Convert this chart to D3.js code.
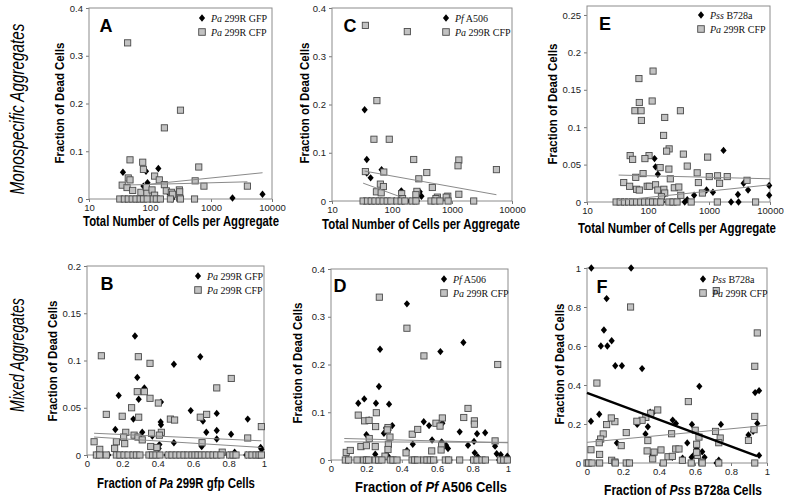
<!DOCTYPE html>
<html><head><meta charset="utf-8">
<script src="https://cdn.jsdelivr.net/npm/d3@7"></script>
<style>body{margin:0;background:#fff}svg{display:block}</style>
</head><body>
<svg id="c" width="788" height="499"></svg>
<script>
// ---------- DATA ----------
const logTicks = [10, 100, 1000, 10000];
const fracTicks = [0, 0.2, 0.4, 0.6, 0.8, 1];
const yTicks04 = [0, 0.1, 0.2, 0.3, 0.4];
const yTicks025 = [0, 0.05, 0.1, 0.15, 0.2, 0.25];
const yTicks02 = [0, 0.05, 0.1, 0.15, 0.2];
const yTicks1 = [0, 0.2, 0.4, 0.6, 0.8, 1];

// Panel A: Pa 299R GFP (diamonds) vs Pa 299R CFP (squares)
const aDia = [[36,.056],[86,.058],[137,.064],[78,.027],[91,.034],[210,.010],[2250,.002],[6990,.010],
  [40,0],[60,0],[100,0],[140,0],[230,0]];
const aSq = [[43,.327],[316,.186],[172,.149],[47,.082],[76,.077],[78,.062],[630,.067],[119,.048],[142,.040],
  [172,.030],[550,.038],[766,.027],[3950,.027],[35,.029],[42,.024],[44,.044],[47,.040],[52,.018],[71,.014],
  [87,.024],[89,.012],[108,.019],[119,.008],[185,.017],[224,.014],[235,.010],[303,.019],[307,.015],[307,.002],
  [32,0],[38,0],[44,0],[51,0],[59,0],[69,0],[78,0],[90,0],[113,0],[127,0],[148,0],[216,0],[316,0],[537,0]];
const aTrend1 = [[99,.031],[7000,.055]];
const aTrend2 = [[36,.029],[3950,.036]];

// Panel C: Pf A506 vs Pa 299R CFP
const cDia = [[35,.189],[38,.086],[67,.065],[44,.048],[38,.058],[143,.021],[290,.019],[310,.010],[143,.008],
  [34,0],[42,0],[50,0],[60,0],[80,0],[110,0],[150,0],[200,0],[260,0]];
const cSq = [[36,.364],[180,.351],[56,.208],[50,.128],[90,.128],[230,.086],[1300,.085],[1260,.073],[5500,.065],
  [36,.061],[73,.060],[380,.059],[280,.046],[64,.035],[72,.030],[470,.028],[55,.019],[66,.017],[145,.015],
  [260,.020],[250,.013],[570,.008],[540,.005],[850,.010],[800,.008],[1300,.014],[150,.005],
  [33,0],[39,0],[45,0],[52,0],[61,0],[71,0],[83,0],[96,0],[121,0],[142,0],[164,0],[216,0],[251,0],
  [447,0],[520,0],[630,0],[860,0],[2300,0]];
const cTrend1 = [[35,.062],[5500,.013]];
const cTrend2 = [[33,.037],[150,.007]];

// Panel E: Pss B728a vs Pa 299R CFP
const eDia = [[128,.058],[133,.047],[145,.037],[1730,.069],[177,.016],[165,.012],[182,.009],[570,.009],[910,.016],
  [1160,.013],[2980,.010],[3700,.025],[4370,.016],[9700,.022],[9700,.009],[2300,0],[3050,0],[440,.003],
  [40,0],[55,0],[80,0],[120,0],[170,0],[250,0],[400,0]];
const eSq = [[121,.175],[71,.165],[72,.133],[117,.135],[61,.122],[77,.122],[340,.122],[78,.109],[188,.113],
  [180,.089],[222,.071],[202,.068],[51,.062],[56,.057],[104,.062],[89,.058],[380,.064],[950,.060],[440,.048],
  [220,.044],[158,.046],[83,.038],[640,.039],[63,.033],[232,.031],[1010,.034],[1380,.035],[1990,.034],
  [670,.026],[1490,.025],[4200,.029],[40,.026],[50,.021],[97,.021],[105,.021],[133,.023],[270,.019],
  [320,.020],[65,.017],[72,.016],[145,.016],[182,.017],[188,.012],[345,.009],[780,.012],[166,.007],
  [30,0],[35,0],[41,0],[48,0],[56,0],[65,0],[76,0],[88,0],[103,0],[119,0],[139,0],[162,0],[220,0],
  [257,0],[299,0],[510,0],[1370,0],[5800,0]];
const eTrend1 = [[33,.036],[10000,.031]];
const eTrend2 = [[33,.002],[10000,.023]];

// Panel B: mixed Pa 299R GFP / CFP
const bDia = [[.271,.126],[.640,.104],[.491,.096],[.284,.082],[.179,.063],[.324,.071],[.292,.059],[.418,.056],
  [.262,.038],[.586,.047],[.655,.036],[.733,.044],[.908,.038],[.416,.035],[.418,.032],[.160,.027],[.312,.024],
  [.674,.024],[.733,.026],[.814,.022],[.733,.017],[.409,.011],[.491,.013],[.298,.018],[.369,.020],[.648,.009],
  [.981,.008],[.986,.006],[.834,.003],[.405,.007],
  [.05,0],[.12,0],[.20,0],[.25,0],[.35,0],[.45,0],[.55,0],[.62,0],[.70,0],[.80,0],[.90,0],[.97,0]];
const bSq = [[.081,.105],[.290,.104],[.356,.097],[.815,.081],[.733,.071],[.284,.067],[.324,.067],[.356,.060],
  [.403,.055],[.252,.050],[.109,.043],[.199,.041],[.292,.040],[.676,.043],[.640,.040],[.471,.038],[.495,.037],
  [.985,.030],[.219,.024],[.266,.021],[.288,.019],[.312,.016],[.365,.023],[.420,.024],[.409,.021],[.207,.019],
  [.040,.014],[.166,.014],[.213,.012],[.650,.013],[.908,.018],[.360,.009],[.395,.008],[.072,.006],[.156,.007],
  [.764,.003],
  [.053,0],[.072,0],[.109,0],[.166,0],[.186,0],[.209,0],[.232,0],[.260,0],[.279,0],[.299,0],[.350,0],[.371,0],
  [.390,0],[.412,0],[.458,0],[.480,0],[.503,0],[.525,0],[.548,0],[.571,0],[.593,0],[.610,0],[.627,0],[.646,0],
  [.667,0],[.689,0],[.712,0],[.733,0],[.757,0],[.806,0],[.825,0],[.842,0],[.910,0],[.932,0],[.955,0],[.972,0],[.985,0]];
const bTrend1 = [[.04,.023],[.985,.015]];
const bTrend2 = [[.04,.019],[.985,.008]];

// Panel D: mixed Pf A506 / Pa 299R CFP
const dDia = [[.429,.327],[.748,.246],[.618,.227],[.277,.232],[.271,.154],[.154,.119],[.188,.128],[.254,.119],
  [.328,.117],[.215,.084],[.200,.053],[.299,.056],[.346,.072],[.311,.067],[.524,.080],[.554,.072],[.629,.077],
  [.727,.059],[.571,.042],[.625,.038],[.650,.031],[.661,.024],[.462,.033],[.429,.020],[.250,.012],[.312,.011],
  [.322,.008],[.825,.055],[.871,.057],[.808,.039],[.774,.031],[.927,.029],[.812,.015],[.829,.007],[.936,.013],
  [.959,.011],[.996,.008],
  [.10,0],[.19,0],[.26,0],[.35,0],[.47,0],[.56,0],[.67,0],[.80,0],[.95,0]];
const dSq = [[.273,.341],[.429,.276],[.525,.218],[.942,.200],[.154,.094],[.256,.099],[.190,.082],[.215,.083],
  [.774,.108],[.750,.089],[.810,.082],[.810,.075],[.629,.088],[.593,.077],[.616,.071],[.252,.070],[.322,.068],
  [.318,.063],[.333,.048],[.459,.054],[.490,.064],[.216,.045],[.169,.028],[.200,.030],[.086,.016],[.109,.020],
  [.250,.028],[.324,.033],[.322,.022],[.305,.008],[.424,.015],[.569,.019],[.625,.030],[.622,.021],[.927,.040],
  [.081,0],[.100,0],[.147,0],[.185,0],[.200,0],[.213,0],[.250,0],[.269,0],[.288,0],[.335,0],[.350,0],[.373,0],
  [.458,0],[.473,0],[.490,0],[.524,0],[.542,0],[.561,0],[.580,0],[.646,0],[.665,0],[.727,0],[.806,0],[.825,0],
  [.853,0],[.872,0],[.957,0],[.976,0],[.996,0]];
const dTrend1 = [[.075,.045],[1,.036]];
const dTrend2 = [[.075,.038],[1,.037]];

// Panel F: mixed Pss B728a / Pa 299R CFP
const fDia = [[.024,1.0],[.245,1.0],[.109,.843],[.094,.682],[.077,.600],[.113,.600],[.137,.627],[.157,.499],
  [.194,.499],[.306,.484],[.624,.393],[.022,.214],[.068,.250],[.166,.103],[.279,.198],[.325,.149],[.338,.186],
  [.351,.260],[.365,.256],[.476,.220],[.494,.203],[.583,.198],[.744,.198],[.946,.203],[.934,.361],[.956,.371],
  [.923,.162],[.897,.144],[.956,.039],[.557,.103],[.596,.044],[.609,.072],[.640,.058],[.653,.029],[.581,.029],
  [.474,.029],[.531,.024],[.365,.043],[.360,.032],[.720,0],[.732,.014]];
const fSq = [[.718,.884],[.242,.800],[.055,.410],[.946,.667],[.932,.496],[.563,.315],[.393,.272],[.354,.255],
  [.327,.234],[.306,.219],[.277,.214],[.155,.212],[.135,.231],[.109,.197],[.218,.156],[.090,.149],[.076,.123],
  [.068,.104],[.190,.089],[.338,.115],[.470,.150],[.601,.168],[.622,.133],[.609,.096],[.714,.162],[.740,.128],
  [.932,.239],[.928,.171],[.897,.116],[.732,.104],[.022,.068],[.070,.044],[.137,.014],[.155,.005],[.334,.062],
  [.373,.056],[.365,.021],[.411,.067],[.450,.032],[.474,.034],[.493,.072],[.511,.072],[.530,.014],[.613,.039],
  [.609,.055],[.637,.005],
  [0,0],[.009,0],[.028,0],[.070,0],[.157,0],[.218,0],[.236,0],[.424,0],[.579,0],[.640,0],[.732,0],[.932,0]];
const fTrendDia = [[0,.36],[.945,.035]];
const fTrendSq = [[0,.106],[1,.193]];

// ---------- DRAWING ----------
const svg = d3.select('#c');
const SANS = "'Liberation Sans', Arial, Helvetica, sans-serif";
const SERIF = "'Liberation Serif', 'Times New Roman', serif";
const diamondPath = "M0,-3.7L3.1,0L0,3.7L-3.1,0Z";

function richText(sel, parts) {
  parts.forEach(p => {
    const ts = sel.append('tspan').text(p.t);
    if (p.i) ts.attr('font-style', 'italic');
  });
}

// text centred at (cx, cy), optionally rotated, squeezed horizontally to a target width
function fittedText(parent, cx, cy, rot, width, attrs, parts) {
  const t = parent.append('text').attr('text-anchor', 'middle').attr('dominant-baseline', 'central');
  Object.entries(attrs).forEach(([k, v]) => t.attr(k, v));
  richText(t, parts);
  const nat = t.node().getComputedTextLength();
  const s = nat > 0 ? Math.min(1, width / nat) : 1;
  t.attr('transform', `translate(${cx},${cy}) rotate(${rot}) scale(${s},1)`);
  return t;
}

function drawPanel(p) {
  const g = svg.append('g');
  const x = (p.log ? d3.scaleLog() : d3.scaleLinear()).domain(p.xDomain).range([p.l, p.r]);
  const y = d3.scaleLinear().domain(p.yDomain).range([p.b, p.t]);

  const xa = d3.axisBottom(x).tickValues(p.xTicks).tickFormat(d => String(d)).tickSize(3).tickPadding(2);
  const gx = g.append('g').attr('transform', `translate(0,${p.b})`).call(xa);
  const ya = d3.axisLeft(y).tickValues(p.yTicks).tickFormat(d => String(d)).tickSize(3).tickPadding(3);
  const gy = g.append('g').attr('transform', `translate(${p.l},0)`).call(ya);
  [gx, gy].forEach(a => {
    a.select('.domain').remove();
    a.selectAll('line').attr('stroke', '#777');
    a.selectAll('text').attr('font-family', SANS).attr('font-size', 9.5).attr('fill', '#222');
  });

  g.append('rect').attr('x', p.l).attr('y', p.t).attr('width', p.r - p.l).attr('height', p.b - p.t)
    .attr('fill', 'none').attr('stroke', '#8c8c8c').attr('stroke-width', 1);

  g.append('g').selectAll('path').data(p.dia).join('path')
    .attr('d', diamondPath)
    .attr('transform', d => `translate(${x(d[0])},${y(d[1])})`)
    .attr('fill', '#000');
  g.append('g').selectAll('rect').data(p.sq).join('rect')
    .attr('x', d => x(d[0]) - 3.1).attr('y', d => y(d[1]) - 3.1)
    .attr('width', 6.2).attr('height', 6.2)
    .attr('fill', '#c2c2c2').attr('stroke', '#4a4a4a').attr('stroke-width', 0.9);

  const line = d3.line().x(d => x(d[0])).y(d => y(d[1]));
  p.trends.forEach(t => {
    g.append('path').attr('d', line(t.data)).attr('fill', 'none')
      .attr('stroke', t.color).attr('stroke-width', t.w);
  });

  g.append('text').attr('x', p.letterX).attr('y', p.letterY).attr('text-anchor', 'middle')
    .attr('font-family', SANS).attr('font-weight', 'bold').attr('font-size', 18).text(p.letter);

  const lg = g.append('g').attr('transform', `translate(${p.legX},${p.legY})`);
  lg.append('path').attr('d', diamondPath).attr('fill', '#000');
  lg.append('rect').attr('x', -3.3).attr('y', 14 - 3.3).attr('width', 6.6).attr('height', 6.6)
    .attr('fill', '#c2c2c2').attr('stroke', '#4a4a4a').attr('stroke-width', 0.9);
  p.legend.forEach((parts, i) => {
    const t = lg.append('text').attr('x', 9).attr('y', i * 14 + 3.5)
      .attr('font-family', SERIF).attr('font-size', 10).attr('fill', '#111');
    richText(t, parts);
  });

  fittedText(g, p.ytX, p.ytY, -90, 121,
    {'font-family': SANS, 'font-weight': 'bold', 'font-size': 13}, [{t: 'Fraction of Dead Cells'}]);
  fittedText(g, p.xtX, p.xtY, 0, p.xtW,
    {'font-family': SANS, 'font-weight': 'bold', 'font-size': 14}, p.xTitle);
}

const totalTitle = [{t: 'Total Number of Cells per Aggregate'}];
const cfpLeg = [{t: 'Pa', i: true}, {t: ' 299R CFP'}];

const panels = [
  {l: 89, r: 272, t: 8, b: 199, log: true, xDomain: [10, 10000], yDomain: [0, 0.4], xTicks: logTicks, yTicks: yTicks04,
   dia: aDia, sq: aSq, trends: [{data: aTrend1, color: '#8a8a8a', w: 1}, {data: aTrend2, color: '#8a8a8a', w: 1}],
   letter: 'A', letterX: 106, letterY: 32, legX: 202, legY: 18,
   legend: [[{t: 'Pa', i: true}, {t: ' 299R GFP'}], cfpLeg],
   ytX: 60, ytY: 103, xtX: 181, xtY: 221, xtW: 196, xTitle: totalTitle},
  {l: 332, r: 512, t: 8, b: 201, log: true, xDomain: [10, 10000], yDomain: [0, 0.4], xTicks: logTicks, yTicks: yTicks04,
   dia: cDia, sq: cSq, trends: [{data: cTrend1, color: '#8a8a8a', w: 1}, {data: cTrend2, color: '#8a8a8a', w: 1}],
   letter: 'C', letterX: 350, letterY: 32, legX: 446, legY: 18,
   legend: [[{t: 'Pf', i: true}, {t: ' A506'}], cfpLeg],
   ytX: 305, ytY: 103, xtX: 421, xtY: 224, xtW: 198, xTitle: totalTitle},
  {l: 587, r: 770, t: 6, b: 202, log: true, xDomain: [10, 10000], yDomain: [0, 0.262], xTicks: logTicks, yTicks: yTicks025,
   dia: eDia, sq: eSq, trends: [{data: eTrend1, color: '#8a8a8a', w: 1}, {data: eTrend2, color: '#8a8a8a', w: 1}],
   letter: 'E', letterX: 605, letterY: 30, legX: 701, legY: 15,
   legend: [[{t: 'Pss', i: true}, {t: ' B728a'}], cfpLeg],
   ytX: 553, ytY: 104, xtX: 677, xtY: 228, xtW: 198, xTitle: totalTitle},
  {l: 87, r: 264, t: 266, b: 455, log: false, xDomain: [0, 1], yDomain: [0, 0.2], xTicks: fracTicks, yTicks: yTicks02,
   dia: bDia, sq: bSq, trends: [{data: bTrend1, color: '#8a8a8a', w: 1}, {data: bTrend2, color: '#8a8a8a', w: 1}],
   letter: 'B', letterX: 107, letterY: 290, legX: 198, legY: 276,
   legend: [[{t: 'Pa', i: true}, {t: ' 299R GFP'}], cfpLeg],
   ytX: 53, ytY: 361, xtX: 176, xtY: 483, xtW: 158,
   xTitle: [{t: 'Fraction of '}, {t: 'Pa', i: true}, {t: ' 299R gfp Cells'}]},
  {l: 331, r: 508, t: 269, b: 460, log: false, xDomain: [0, 1], yDomain: [0, 0.4], xTicks: fracTicks, yTicks: yTicks04,
   dia: dDia, sq: dSq, trends: [{data: dTrend1, color: '#8a8a8a', w: 1}, {data: dTrend2, color: '#8a8a8a', w: 1}],
   letter: 'D', letterX: 340, letterY: 292, legX: 444, legY: 279,
   legend: [[{t: 'Pf', i: true}, {t: ' A506'}], cfpLeg],
   ytX: 298, ytY: 363, xtX: 431, xtY: 487, xtW: 152,
   xTitle: [{t: 'Fraction of '}, {t: 'Pf', i: true}, {t: ' A506 Cells'}]},
  {l: 587, r: 767, t: 268, b: 463, log: false, xDomain: [0, 1], yDomain: [0, 1], xTicks: fracTicks, yTicks: yTicks1,
   dia: fDia, sq: fSq, trends: [{data: fTrendSq, color: '#8a8a8a', w: 1}, {data: fTrendDia, color: '#000', w: 2.4}],
   letter: 'F', letterX: 602, letterY: 293, legX: 703, legY: 279,
   legend: [[{t: 'Pss', i: true}, {t: ' B728a'}], cfpLeg],
   ytX: 560, ytY: 364, xtX: 683, xtY: 490, xtW: 158,
   xTitle: [{t: 'Fraction of '}, {t: 'Pss', i: true}, {t: ' B728a Cells'}]}
];
panels.forEach(drawPanel);

fittedText(svg, 17, 109, -90, 171, {'font-family': SANS, 'font-style': 'italic', 'font-size': 20},
  [{t: 'Monospecific Aggregates'}]);
fittedText(svg, 17, 355, -90, 114, {'font-family': SANS, 'font-style': 'italic', 'font-size': 20},
  [{t: 'Mixed Aggregates'}]);
</script>
</body></html>
